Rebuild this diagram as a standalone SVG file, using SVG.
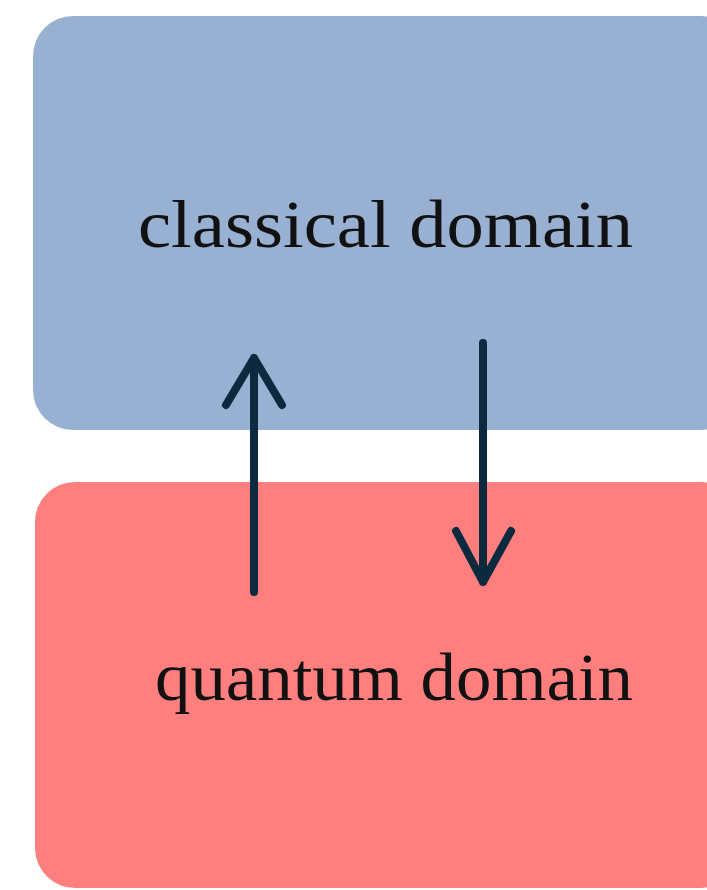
<svg xmlns="http://www.w3.org/2000/svg" width="707" height="890" viewBox="0 0 707 890">
<style>
.lbl{font-family:"Liberation Serif","DejaVu Serif",serif;font-size:68px;fill:#111}
.arr{stroke:#0c2a3e;stroke-width:8;fill:none;stroke-linecap:round;stroke-linejoin:round}
</style>
<rect width="707" height="890" fill="#fff"/>
<g id="classical">
<rect x="33" y="16" width="708" height="414" rx="40" fill="#98b0d1"/>
<text class="lbl" x="138" y="247" textLength="495" lengthAdjust="spacingAndGlyphs">classical domain</text>
</g>
<g id="quantum">
<rect x="35" y="482" width="706" height="406" rx="40" fill="#ff7f7f"/>
<text class="lbl" x="155" y="700" textLength="478" lengthAdjust="spacingAndGlyphs">quantum domain</text>
</g>
<g id="connectors">
<path class="arr" d="M254 592 V358 M226 405 L254 358 L282 405"/>
<path class="arr" d="M483 343 V582 M456 531 L483 582 L511 531"/>
</g>
</svg>
